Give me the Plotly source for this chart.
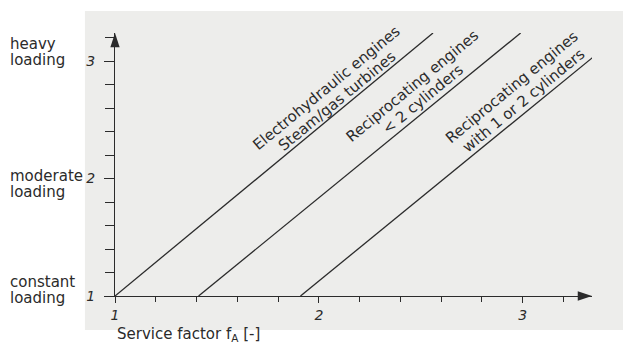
import plotly.graph_objects as go

# ── data ──────────────────────────────────────────────────────────────────────
LINE_NAMES = [
    "Electrohydraulic engines / Steam/gas turbines",
    "Reciprocating engines < 2 cylinders",
    "Reciprocating engines with 1 or 2 cylinders",
]
LINE_X_START = [1.0, 1.41, 1.91]
LINE_X_END = [2.56, 2.99, 3.49]
LINE_Y_START = [1.0, 1.0, 1.0]
LINE_Y_END = [3.24, 3.24, 3.24]

LABEL_LINE1 = ["Electrohydraulic engines", "Reciprocating engines", "Reciprocating engines"]
LABEL_LINE2 = ["Steam/gas turbines", "&lt; 2 cylinders", "with 1 or 2 cylinders"]
LABEL_X = [2.064, 2.485, 2.975]
LABEL_Y = [2.715, 2.735, 2.72]

LOAD_LINE1 = ["heavy", "moderate", "constant"]
LOAD_LINE2 = ["loading", "loading", "loading"]
LOAD_Y = [3.08, 1.95, 1.05]

X_TICKS = [1, 2, 3]
Y_TICKS = [1, 2, 3]
X_RANGE = [1, 3.34]
Y_RANGE = [1, 3.24]

INK = "#2b2b2b"
PANEL = "#ededeb"
FONT = "DejaVu Sans"
ANGLE = -39.5

# the page body has an 8px margin, so the figure is 8px smaller than the window
W, H = 631 - 8, 345 - 8

fig = go.Figure()

# background panel of the scanned figure
fig.add_shape(type="rect", xref="paper", yref="paper",
              x0=-0.063, x1=1.09, y0=-0.129, y1=1.084,
              fillcolor=PANEL, line=dict(width=0), layer="below")

for name, x0, x1, y0, y1 in zip(LINE_NAMES, LINE_X_START, LINE_X_END, LINE_Y_START, LINE_Y_END):
    fig.add_trace(go.Scatter(
        x=[x0, x1], y=[y0, y1], mode="lines", name=name,
        line=dict(color=INK, width=1.3), cliponaxis=False,
        showlegend=False, hoverinfo="skip",
    ))

# arrow heads at the axis ends
fig.add_trace(go.Scatter(
    x=[X_RANGE[1], X_RANGE[0]], y=[Y_RANGE[0], Y_RANGE[1]], mode="markers",
    marker=dict(symbol="arrow", angle=[90, 0], size=15, color=INK, line=dict(width=0)),
    cliponaxis=False, showlegend=False, hoverinfo="skip",
))

# two-line labels along the lines, each line offset perpendicular to the text
dx, dy = 5.4, 6.6
for l1, l2, x, y in zip(LABEL_LINE1, LABEL_LINE2, LABEL_X, LABEL_Y):
    for txt, sx, sy in ((l1, -dx, dy), (l2, dx, -dy)):
        fig.add_annotation(x=x, y=y, text=txt, showarrow=False, textangle=ANGLE,
                           xanchor="center", yanchor="middle", xshift=sx, yshift=sy,
                           font=dict(family=FONT, size=15, color=INK))

for l1, l2, y in zip(LOAD_LINE1, LOAD_LINE2, LOAD_Y):
    for txt, sy in ((l1, 8), (l2, -8)):
        fig.add_annotation(xref="paper", x=-0.224, y=y, text=txt, showarrow=False,
                           xanchor="left", yanchor="middle", yshift=sy,
                           font=dict(family=FONT, size=15, color=INK))

fig.add_annotation(xref="paper", yref="paper", x=0.0, y=-0.148,
                   text="Service factor f<sub>A</sub> [-]", showarrow=False,
                   xanchor="left", yanchor="middle",
                   font=dict(family=FONT, size=15, color=INK))

tick_font = dict(family=FONT, size=14, color=INK, style="italic")
fig.update_xaxes(
    range=X_RANGE, tickvals=X_TICKS, showgrid=False, zeroline=False,
    showline=True, linecolor=INK, linewidth=1.3,
    ticks="outside", ticklen=6, tickwidth=1.2, tickcolor=INK, tickfont=tick_font,
    minor=dict(dtick=0.2, tick0=1, ticks="outside", ticklen=5, tickwidth=1, tickcolor=INK),
)
fig.update_yaxes(
    range=Y_RANGE, tickvals=Y_TICKS, showgrid=False, zeroline=False,
    showline=True, linecolor=INK, linewidth=1.3,
    ticks="outside", ticklen=10, tickwidth=1.2, tickcolor=INK, tickfont=tick_font,
    ticklabelstandoff=6,
    minor=dict(dtick=0.2, tick0=1, ticks="outside", ticklen=9, tickwidth=1, tickcolor=INK),
)
fig.update_layout(
    width=W, height=H, autosize=False,
    margin=dict(l=115 - 8, r=39, t=33 - 8, b=49),
    paper_bgcolor="white", plot_bgcolor="rgba(0,0,0,0)",
    showlegend=False,
)

fig.write_html("out.html")
